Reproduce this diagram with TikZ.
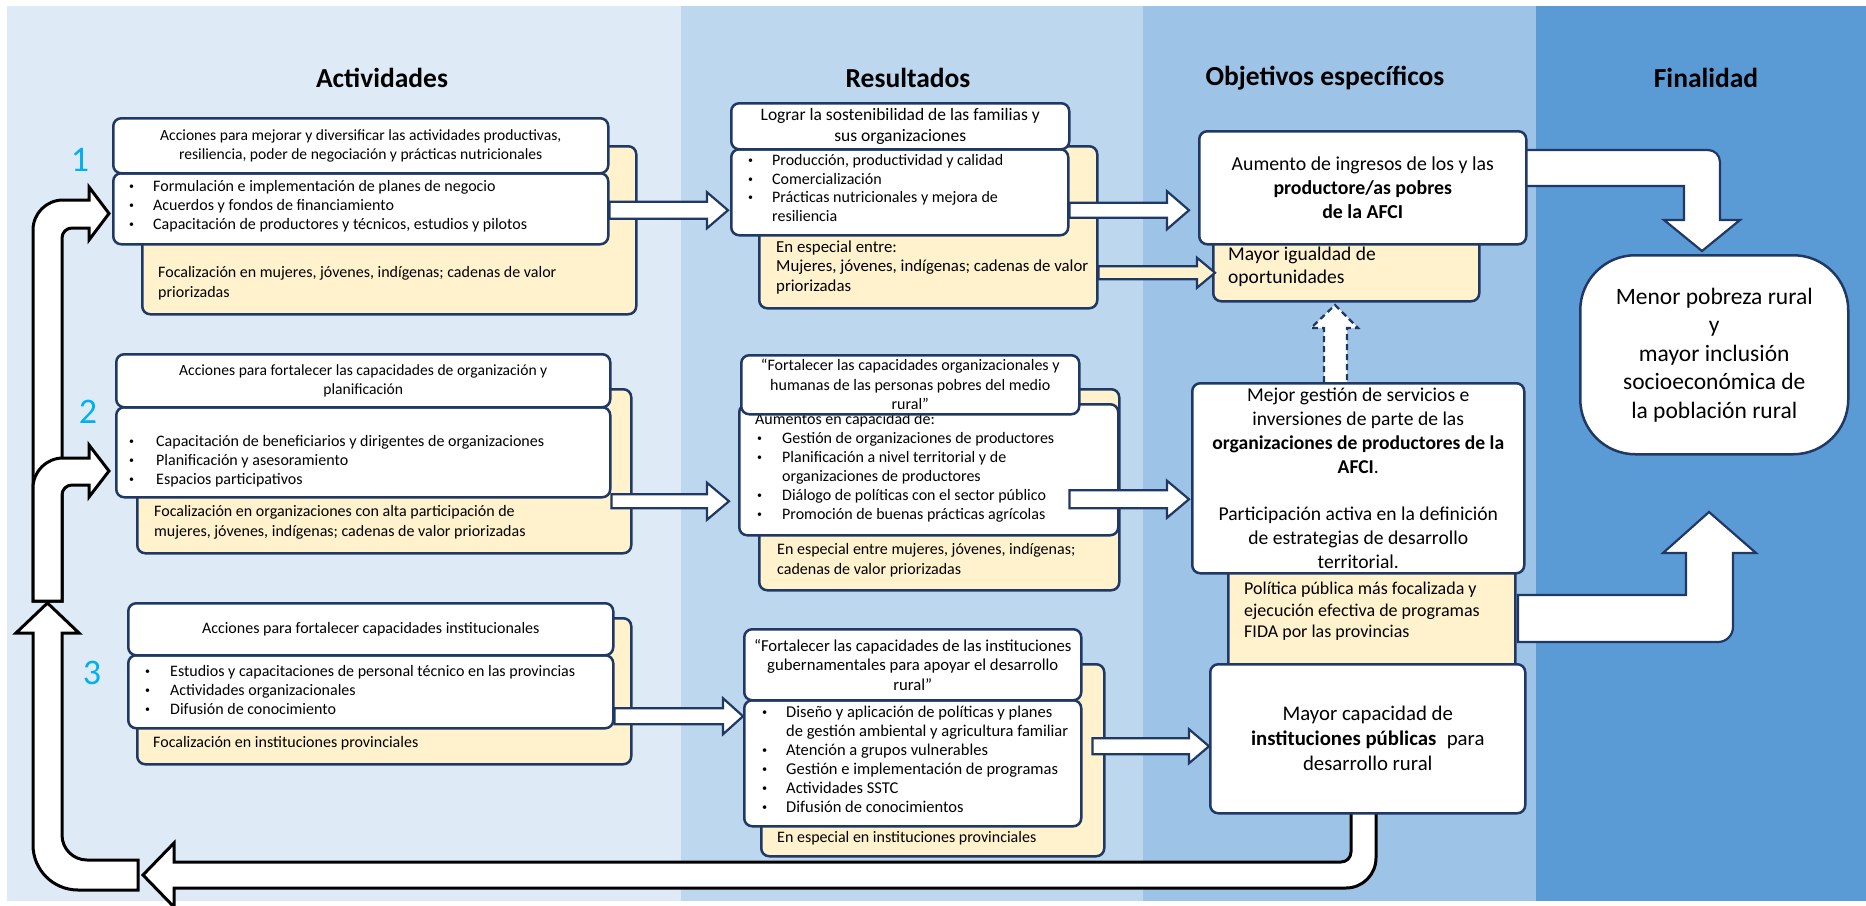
\documentclass[tikz,border=0pt]{standalone}
\usepackage{fontspec}
\setmainfont{Carlito}
\usetikzlibrary{calc}
\definecolor{colA}{HTML}{DEEBF7}
\definecolor{colB}{HTML}{BDD7EE}
\definecolor{colC}{HTML}{9DC3E6}
\definecolor{colD}{HTML}{5B9BD5}
\definecolor{navy}{HTML}{203864}
\definecolor{ylw}{HTML}{FFF2CC}
\definecolor{numcol}{HTML}{00B0F0}
\pgfdeclarelayer{bg}
\pgfdeclarelayer{behind}
\pgfdeclarelayer{front}
\pgfsetlayers{bg,behind,main,front}
\newcommand\fs[2]{\fontsize{#1}{#2}\selectfont}
\newcommand\bulw[1]{\makebox[#1][l]{\raisebox{0.12em}{\scalebox{0.62}{\textbullet}}}}
\newcommand\bul{\bulw{24pt}}
\newcommand\boxat[7]{\node[#2, minimum width={#5-#3}, minimum height={#6-#4}] (#1) at (#3,#4) {#7};}
% style, start, end, half shaft, half head, head length
\newcommand\harr[6]{\draw[#1] ($(#2)+(0,-#4)$) -- ($(#2 -| #3)+(-#6,-#4)$) -- ($(#2 -| #3)+(-#6,-#5)$) -- (#2 -| #3) -- ($(#2 -| #3)+(-#6,#5)$) -- ($(#2 -| #3)+(-#6,#4)$) -- ($(#2)+(0,#4)$) -- cycle;}
\tikzset{
 wbox/.style={draw=navy, line width=2.5pt, rounded corners=8pt, fill=white, inner sep=0pt, anchor=north west},
 ybox/.style={wbox, fill=ylw},
 txt/.style={inner sep=0pt, align=left, anchor=west, text=black},
 conn/.style={draw=navy, line width=2.2pt, fill=white, line join=miter},
 yconn/.style={conn, fill=ylw},
 loopar/.style={draw=black, line width=3pt, fill=white, line join=miter},
 dconn/.style={conn, dash pattern=on 6pt off 4pt},
 colhead/.style={font=\bfseries\fs{27.5}{32}, inner sep=0pt, text=black},
 num/.style={font=\fs{36}{40}, text=numcol, inner sep=0pt},
 hdr/.style={wbox, align=center, font=\fs{15.8}{19.5}},
}
\begin{document}
\begin{tikzpicture}[x=1pt,y=-1pt]
\useasboundingbox (0,0) rectangle (1866,905);
\begin{pgfonlayer}{bg}
\fill[white] (0,0) rectangle (1866,905);
\fill[colA] (7,6) rectangle (681,901);
\fill[colB] (681,6) rectangle (1143,901);
\fill[colC] (1143,6) rectangle (1536,901);
\fill[colD] (1536,6) rectangle (1866,901);
\end{pgfonlayer}

% column headers
\node[colhead] (h1) at (382,78) {Actividades};
\node[colhead] (h2) at (908,78) {Resultados};
\node[colhead] (h3) at (1325,78) {Objetivos específicos};
\node[colhead] (h4) at (1706,78) {Finalidad};

% numbers
\node[num] (n1) at (80,160) {1};
\node[num] (n2) at (88,412) {2};
\node[num] (n3) at (92,673) {3};

% ---------- Actividades ----------
\boxat{a1y}{ybox}{141}{145}{635}{313}{}
\node[txt, font=\fs{16}{20}] (a1yt) at (158,283) {Focalización en mujeres, jóvenes, indígenas; cadenas de valor\\priorizadas};
\boxat{a1b}{wbox}{112}{172}{607}{243}{}
\node[txt, font=\fs{16}{19}] (a1bt) at (129,206) {\bul Formulación e implementación de planes de negocio\\\bul Acuerdos y fondos de financiamiento\\\bul Capacitación de productores y técnicos, estudios y pilotos};
\boxat{a1h}{hdr, font=\fs{15.6}{19.5}}{112}{117}{607}{172}{Acciones para mejorar y diversificar las actividades productivas,\\resiliencia, poder de negociación y prácticas nutricionales}

\boxat{a2y}{ybox}{136}{388}{630}{552}{}
\node[txt, font=\fs{16}{19.5}] (a2yt) at (154,522.5) {Focalización en organizaciones con alta participación de\\mujeres, jóvenes, indígenas; cadenas de valor priorizadas};
\boxat{a2b}{wbox}{115}{406}{609}{496}{}
\node[txt, font=\fs{16}{19}] (a2bt) at (129,461) {\bulw{27pt}Capacitación de beneficiarios y dirigentes de organizaciones\\\bulw{27pt}Planificación y asesoramiento\\\bulw{27pt}Espacios participativos};
\boxat{a2h}{hdr, font=\fs{15.6}{19.5}}{115}{353}{609}{406}{Acciones para fortalecer las capacidades de organización y\\planificación}

\boxat{a3y}{ybox}{136}{617}{630}{763}{}
\node[txt, font=\fs{16}{19}] (a3yt) at (153,743) {Focalización en instituciones provinciales};
\boxat{a3b}{wbox}{127}{654}{612}{727}{}
\node[txt, font=\fs{16}{19}] (a3bt) at (145,689.5) {\bulw{25pt}Estudios y capacitaciones de personal técnico en las provincias\\\bulw{25pt}Actividades organizacionales\\\bulw{25pt}Difusión de conocimiento};
\boxat{a3h}{hdr, font=\fs{16}{19.5}}{127}{602}{612}{654}{Acciones para fortalecer capacidades institucionales}

% ---------- Resultados ----------
\boxat{r1y}{ybox}{758}{145}{1096}{307}{}
\node[txt, font=\fs{16.8}{19.5}] (r1yt) at (776,267.5) {En especial entre:\\Mujeres, jóvenes, indígenas; cadenas de valor\\priorizadas};
\boxat{r1b}{wbox}{730}{148}{1067}{234}{}
\node[txt, font=\fs{16}{18.7}] (r1bt) at (748,188) {\bul Producción, productividad y calidad\\\bul Comercialización\\\bul Prácticas nutricionales y mejora de\\\hspace*{24pt}resiliencia};
\boxat{r1h}{hdr, font=\fs{17.5}{21}}{730}{102}{1068}{148}{Lograr la sostenibilidad de las familias y\\sus organizaciones}

\boxat{r2y}{ybox}{758}{388}{1118}{589}{}
\node[txt, font=\fs{16}{20}] (r2yt) at (777,560) {En especial entre mujeres, jóvenes, indígenas;\\cadenas de valor priorizadas};
\boxat{r2b}{wbox}{738}{403}{1117}{534}{}
\node[txt, font=\fs{16}{19}] (r2bt) at (755,467.5) {Aumentos en capacidad de:\\\hspace*{2pt}\bulw{25pt}Gestión de organizaciones de productores\\\hspace*{2pt}\bulw{25pt}Planificación a nivel territorial y de\\\hspace*{27pt}organizaciones de productores\\\hspace*{2pt}\bulw{25pt}Diálogo de políticas con el sector público\\\hspace*{2pt}\bulw{25pt}Promoción de buenas prácticas agrícolas};
\boxat{r2h}{hdr, font=\fs{16}{19.5}}{740}{354}{1078}{413}{“Fortalecer las capacidades organizacionales y\\humanas de las personas pobres del medio\\rural”}

\boxat{r3y}{ybox}{760}{663}{1103}{855}{}
\node[txt, font=\fs{16}{19}] (r3yt) at (777,838) {En especial en instituciones provinciales};
\boxat{r3b}{wbox}{743}{699}{1080}{825}{}
\node[txt, font=\fs{16.5}{19}] (r3bt) at (762,759.5) {\bul Diseño y aplicación de políticas y planes\\\hspace*{24pt}de gestión ambiental y agricultura familiar\\\bul Atención a grupos vulnerables\\\bul Gestión e implementación de programas\\\bul Actividades SSTC\\\bul Difusión de conocimientos};
\boxat{r3h}{hdr, font=\fs{16.7}{19.5}}{743}{628}{1080}{699}{“Fortalecer las capacidades de las instituciones\\gubernamentales para apoyar el desarrollo\\rural”}

% ---------- Objetivos ----------
\boxat{my}{ybox}{1212}{230}{1478}{300}{}
\node[txt, font=\fs{19.5}{23}] (myt) at (1228,266.5) {Mayor igualdad de\\oportunidades};
\boxat{pol}{ybox}{1227}{565}{1514}{670}{}
\node[txt, font=\fs{18}{21.5}] (polt) at (1244,611.5) {Política pública más focalizada y\\ejecución efectiva de programas\\FIDA por las provincias};
\boxat{o1}{wbox, align=center, font=\fs{19.8}{24}}{1198}{130}{1525}{243}{Aumento de ingresos de los y las\\\textbf{productore/as pobres}\\\textbf{de la AFCI}}
\boxat{o2}{wbox, align=center, font=\fs{19.6}{24}}{1191}{382}{1523}{572}{Mejor gestión de servicios e\\inversiones de parte de las\\\textbf{organizaciones de productores de la}\\\textbf{AFCI}.\\[23pt]Participación activa en la definición\\de estrategias de desarrollo\\territorial.}
\boxat{o3}{wbox, align=center, font=\fs{20.8}{25}}{1209}{663}{1524}{812}{Mayor capacidad de\\\textbf{instituciones públicas}\enspace para\\desarrollo rural}

% ---------- Finalidad ----------
\boxat{fin}{wbox, rounded corners=55pt, align=center, font=\fs{23.5}{28.5}}{1579}{254}{1847}{453}{Menor pobreza rural\\y\\mayor inclusión\\socioeconómica de\\la población rural}

% ---------- connectors behind boxes ----------
\begin{pgfonlayer}{behind}
\draw[conn] (1515,150) -- (1708,150) arc[start angle=-90, end angle=0, radius=12] -- (1720,220) -- (1740,220) -- (1702,251) -- (1664,220) -- (1684,220) -- (1684,186) -- (1515,186) -- cycle;
\draw[conn] (1518,595) -- (1686,595) -- (1686,553) -- (1663,553) -- (1709,512) -- (1756,553) -- (1733,553) -- (1733,627) arc[start angle=0, end angle=90, radius=15] -- (1518,642) -- cycle;
\draw[dconn] (1324,392) -- (1324,328) -- (1311,328) -- (1335,305) -- (1358,328) -- (1347,328) -- (1347,392) -- cycle;
\draw[loopar] (1351,800) -- (1351,852) arc[start angle=0, end angle=90, radius=10] -- (174,862) -- (174,843) -- (143,875) -- (174,907) -- (174,888) -- (1346,888) arc[start angle=90, end angle=0, radius=30] -- (1376,800) -- cycle;
\draw[loopar] (138,860) -- (87,860) arc[start angle=90, end angle=180, radius=25] -- (62,633) -- (79,633) -- (47.5,603) -- (16,633) -- (33,633) -- (33,845) arc[start angle=180, end angle=90, radius=45] -- (138,890) -- cycle;
\draw[loopar] (33,601) -- (33,230) arc[start angle=180, end angle=270, radius=30] -- (89,200) -- (89,187) -- (109,213.5) -- (89,240) -- (89,228) -- (72,228) arc[start angle=270, end angle=180, radius=10] -- (62,601) -- cycle;
\draw[loopar] (33,601) -- (33,488) arc[start angle=180, end angle=270, radius=30] -- (89,458) -- (89,445) -- (109,471) -- (89,497) -- (89,485) -- (72,485) arc[start angle=270, end angle=180, radius=10] -- (62,601) -- cycle;
\end{pgfonlayer}

% ---------- connectors in front ----------
\begin{pgfonlayer}{front}
\coordinate (s1) at ($(a1b.east)+(0,1.5)$);
\coordinate (e1) at ($(r1b.west)+(-2,0)$);
\harr{conn}{s1}{e1}{8.5}{18}{21}
\coordinate (s2) at ($(r1b.east)+(0,18)$);
\coordinate (e2) at ($(o1.west)+(-9,0)$);
\harr{conn}{s2}{e2}{7.5}{19}{22}
\coordinate (s3) at ($(r1y.east)+(0,45.5)$);
\coordinate (e3) at ($(my.west)+(3,0)$);
\harr{yconn}{s3}{e3}{6.5}{15}{18}
\coordinate (s4) at ($(a2b.east)+(0,49)$);
\coordinate (e4) at ($(r2b.west)+(-9,0)$);
\harr{conn}{s4}{e4}{7}{18.5}{22}
\coordinate (s5) at ($(r2b.east)+(-50,29.5)$);
\coordinate (e5) at ($(o2.west)+(-2,0)$);
\harr{conn}{s5}{e5}{9}{18.5}{22}
\coordinate (s6) at ($(a3b.east)+(0,24.5)$);
\harr{conn}{s6}{r3b.west}{8}{18}{20}
\coordinate (s7) at ($(r3y.east)+(-13,-14)$);
\harr{conn}{s7}{o3.west}{8}{17}{20}
\end{pgfonlayer}
\end{tikzpicture}
\end{document}
